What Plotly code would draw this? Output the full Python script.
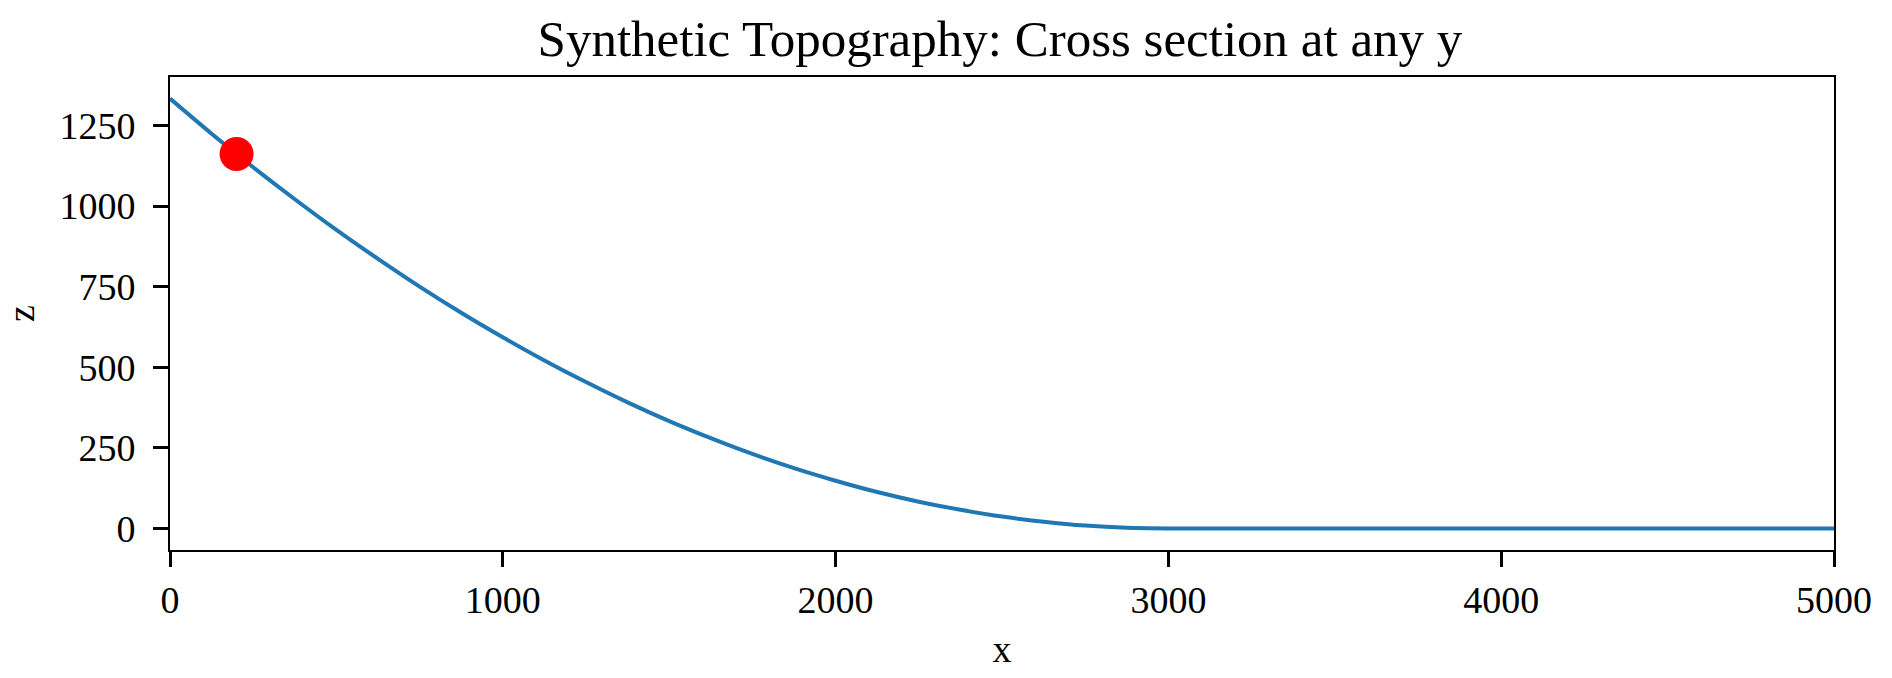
import plotly.graph_objects as go

# cross-section profile
x_vals = [0, 125, 250, 375, 500, 625, 750, 875, 1000, 1125, 1250, 1375, 1500,
          1625, 1750, 1875, 2000, 2125, 2250, 2375, 2500, 2625, 2750, 2875, 3000,
          3250, 3500, 3750, 4000, 4250, 4500, 4750, 5000]
z_vals = [1333, 1224, 1120, 1021, 926, 836, 750, 669, 593, 521, 454, 391, 333,
          280, 231, 187, 148, 113, 83, 58, 37, 21, 9, 2, 0,
          0, 0, 0, 0, 0, 0, 0, 0]

# marked point
pt_x = [200]
pt_z = [1161]

x_ticks = [0, 1000, 2000, 3000, 4000, 5000]
y_ticks = [0, 250, 500, 750, 1000, 1250]

font = "Liberation Serif"

fig = go.Figure()
fig.add_trace(go.Scatter(x=x_vals, y=z_vals, mode="lines",
                         line=dict(color="#1f77b4", width=4, shape="spline", smoothing=0.6),
                         showlegend=False))
fig.add_trace(go.Scatter(x=pt_x, y=pt_z, mode="markers",
                         marker=dict(color="#ff0000", size=34, line=dict(width=0)),
                         showlegend=False))

axis_common = dict(showline=True, linecolor="black", linewidth=2, mirror=True,
                   ticks="outside", ticklen=15, tickwidth=2.5, tickcolor="black",
                   showgrid=False, zeroline=False,
                   tickfont=dict(family=font, size=38, color="black"))

fig.update_xaxes(range=[0, 5000], tickvals=x_ticks,
                 title=dict(text="x", font=dict(family=font, size=38, color="black"), standoff=16),
                 **axis_common)
fig.update_yaxes(range=[-66.7, 1400], tickvals=y_ticks, ticklabelstandoff=10,
                 title=dict(text="z", font=dict(family=font, size=38, color="black"), standoff=14),
                 **axis_common)

fig.update_layout(
    width=1892, height=678,
    margin=dict(l=170, r=58, t=77, b=128),
    plot_bgcolor="white", paper_bgcolor="white",
    title=dict(text="Synthetic Topography: Cross section at any y",
               font=dict(family=font, size=51, color="black"),
               x=0.5285, xanchor="center", y=0.943, yanchor="middle"),
)

# drop the page margin so the 1892x678 figure fills the window exactly
fig.write_html("out.html", config={"displayModeBar": False},
               post_script="document.body.style.margin='0px';document.body.style.overflow='hidden';")
